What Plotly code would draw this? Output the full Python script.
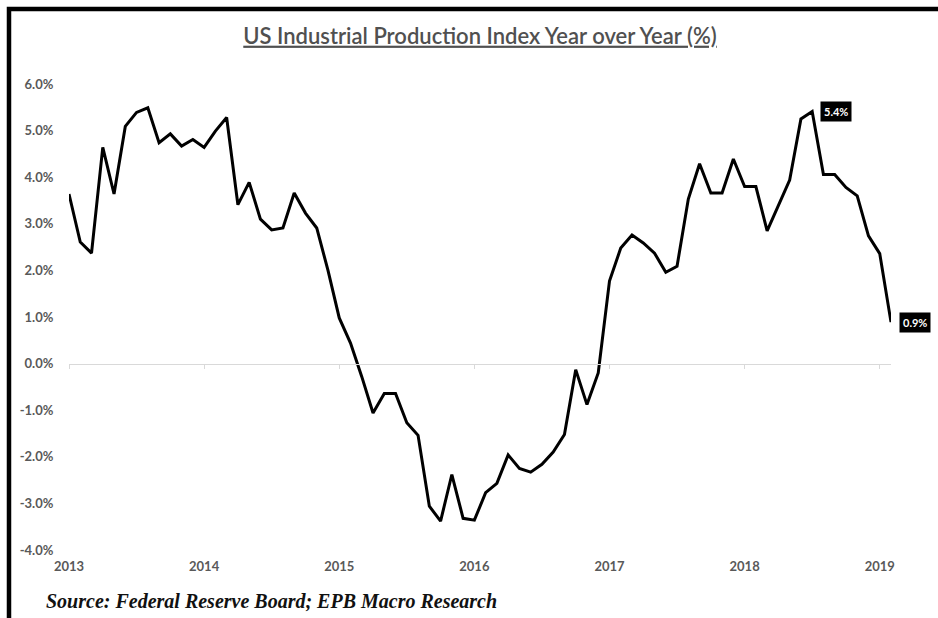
import plotly.graph_objects as go

# ---- data -----------------------------------------------------------------
years = ["2013", "2014", "2015", "2016", "2017", "2018", "2019"]
month_names = ["Jan", "Feb", "Mar", "Apr", "May", "Jun",
               "Jul", "Aug", "Sep", "Oct", "Nov", "Dec"]
months = [f"{m} {y}" for y in years for m in month_names][:74]  # Jan 2013 .. Feb 2019

yoy_pct = [
    3.64, 2.61, 2.37, 4.64, 3.64, 5.09, 5.39, 5.49, 4.74, 4.93, 4.67, 4.81,   # 2013
    4.64, 4.99, 5.28, 3.41, 3.89, 3.10, 2.87, 2.91, 3.66, 3.23, 2.91, 2.00,   # 2014
    0.98, 0.44, -0.28, -1.06, -0.64, -0.64, -1.27, -1.54, -3.06, -3.38, -2.38, -3.32,  # 2015
    -3.36, -2.77, -2.57, -1.96, -2.25, -2.33, -2.16, -1.90, -1.52, -0.13, -0.88, -0.20,  # 2016
    1.77, 2.48, 2.76, 2.59, 2.37, 1.96, 2.09, 3.53, 4.29, 3.66, 3.66, 4.39,   # 2017
    3.80, 3.80, 2.85, 3.39, 3.94, 5.25, 5.41, 4.06, 4.06, 3.78, 3.60, 2.74,   # 2018
    2.36, 0.89,                                                               # 2019
]

labelled_months = ["Jul 2018", "Feb 2019"]

year_ticks = [f"Jan {y}" for y in years]
y_tickvals = [6, 5, 4, 3, 2, 1, 0, -1, -2, -3, -4]
y_ticktext = ["6.0%", "5.0%", "4.0%", "3.0%", "2.0%", "1.0%", "0.0%",
              "-1.0%", "-2.0%", "-3.0%", "-4.0%"]

title_text = "US Industrial Production Index Year over Year (%)"
source_text = "Source: Federal Reserve Board; EPB Macro Research"

# ---- figure ---------------------------------------------------------------
GRAY = "#595959"
FONT = "Lato, Open Sans, sans-serif"
fig = go.Figure()

fig.add_trace(go.Scatter(
    x=months, y=yoy_pct, mode="lines",
    line=dict(color="black", width=3),
    cliponaxis=False, showlegend=False, hoverinfo="x+y",
))
# invisible trace to carry the zero-level axis with year tick marks
fig.add_trace(go.Scatter(
    x=months, y=yoy_pct, mode="lines", xaxis="x2",
    line=dict(color="rgba(0,0,0,0)", width=0),
    showlegend=False, hoverinfo="skip",
))

# data labels
for m in labelled_months:
    i = months.index(m)
    fig.add_annotation(
        x=months[i], y=yoy_pct[i], xref="x", yref="y",
        text=f"<b>{yoy_pct[i]:.1f}%</b>", showarrow=False,
        xanchor="left", yanchor="middle", xshift=8,
        bgcolor="black", borderpad=3,
        font=dict(family=FONT, size=11, color="white"),
    )

fig.add_annotation(
    x=-0.0304, y=-0.109, xref="paper", yref="paper",
    text=f"<b><i>{source_text}</i></b>", showarrow=False,
    xanchor="left", yanchor="middle",
    font=dict(family="Liberation Serif, Times New Roman, serif", size=20, color="#111111"),
)

# black frame (top and left edges visible, runs off the page on right/bottom)
fig.add_shape(type="rect", xref="paper", yref="paper",
              x0=-0.073, x1=1.3, y0=-0.3, y1=1.161,
              line=dict(color="black", width=4.5), layer="above")

fig.update_layout(
    width=938, height=618,
    margin=dict(l=69, r=47, t=84, b=68),
    paper_bgcolor="white", plot_bgcolor="white",
    title=dict(
        text=f"<u>{title_text}</u>", x=0.5, xref="paper",
        y=1 - 36 / 618, yref="container", xanchor="center", yanchor="middle",
        font=dict(family=FONT, size=22, color="#505050", weight=600),
    ),
    xaxis=dict(
        type="category", range=[0, 73],
        tickvals=year_ticks, ticktext=years,
        showgrid=False, zeroline=False, showline=False,
        ticks="outside", ticklen=0, ticklabelstandoff=4,
        tickfont=dict(family=FONT, size=13, color=GRAY, weight="bold"),
    ),
    xaxis2=dict(
        type="category", range=[0, 73], overlaying="x", matches="x",
        anchor="free", position=0.4, side="bottom",
        tickvals=year_ticks, showticklabels=False,
        showgrid=False, zeroline=False,
        showline=True, linecolor="#d9d9d9", linewidth=1,
        ticks="outside", ticklen=4, tickcolor="#d9d9d9", tickwidth=1,
    ),
    yaxis=dict(
        range=[-4, 6], tickvals=y_tickvals, ticktext=y_ticktext,
        showgrid=False, zeroline=False, showline=False,
        ticks="outside", ticklen=0, ticklabelstandoff=12,
        tickfont=dict(family=FONT, size=13, color=GRAY, weight="bold"),
    ),
)

fig.write_html("out.html")
